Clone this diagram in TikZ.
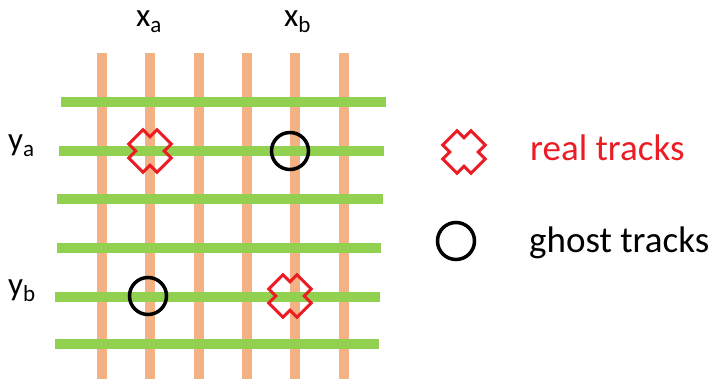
\documentclass[tikz,border=0pt]{standalone}
\usepackage{fontspec}
\setmainfont{Carlito}
\definecolor{TrackOrange}{RGB}{244,177,131}
\definecolor{TrackGreen}{RGB}{146,208,80}
\definecolor{HitRed}{RGB}{235,28,36}
\newcommand{\axislabel}[2]{#1\raisebox{-6pt}{\fontsize{23}{23}\selectfont #2}}

\begin{document}
\begin{tikzpicture}[x=1pt, y=-1pt,
    xwire/.style={TrackOrange, line width=10pt},
    ywire/.style={TrackGreen, line width=10pt},
    ghost/.style={draw=black, line width=3.5pt, circle, minimum size=37pt, inner sep=0pt},
    realmark/.pic={
      \draw[HitRed, line width=3pt, line join=miter, rotate=45]
        (10,20) -- (-10,20) -- (-10,10) -- (-20,10) -- (-20,-10) -- (-10,-10)
        -- (-10,-20) -- (10,-20) -- (10,-10) -- (20,-10) -- (20,10) -- (10,10) -- cycle;},
    axis/.style={font=\fontsize{33}{40}\selectfont, anchor=base west, inner sep=0pt},
    legend/.style={font=\fontsize{37}{44}\selectfont, anchor=base west, inner sep=0pt}]
    \useasboundingbox (0,0) rectangle (716,379);

    % x strips, then y strips on top
    \foreach \x in {102,150,199,247,295,344}
        \draw[xwire] (\x,53) -- (\x,379);
    \foreach \y/\xl/\xr in {102/61/386, 151/59/384, 199/57/383, 248/57/381, 297/55/380, 344/55/379}
        \draw[ywire] (\xl,\y) -- (\xr,\y);

    % strip labels
    \node[axis] (xa) at (136,27) {\axislabel{x}{a}};
    \node[axis] (xb) at (284,27) {\axislabel{x}{b}};
    \node[axis] (ya) at (8,151) {\axislabel{y}{a}};
    \node[axis] (yb) at (8,296) {\axislabel{y}{b}};

    % hits
    \pic (realaa) at (150,151) {realmark};
    \pic (realbb) at (290,296) {realmark};
    \node[ghost] (ghostba) at (290,151) {};
    \node[ghost] (ghostab) at (148,296) {};

    % legend
    \pic (realkey) at (464,152) {realmark};
    \node[ghost] (ghostkey) at (456,241) {};
    \node[legend, text=HitRed] (realtxt) at (530,161) {real tracks};
    \node[legend] (ghosttxt) at (529,253) {ghost tracks};
\end{tikzpicture}
\end{document}
